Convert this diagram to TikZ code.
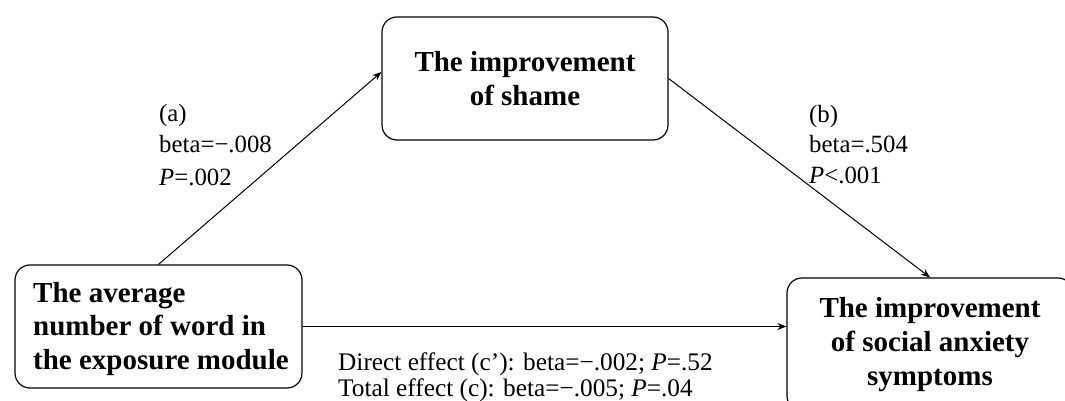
\documentclass[tikz,border=0pt]{standalone}
\usepackage{fontspec}
\setmainfont{Liberation Serif}
\usetikzlibrary{arrows.meta}
\begin{document}
\begin{tikzpicture}[x=1pt,y=-1pt,
  box/.style={draw,line width=1.2pt,rounded corners=15pt,inner sep=0pt,
    font=\fontsize{29}{34}\selectfont\bfseries},
  btxt/.style={inner sep=0pt,font=\fontsize{29}{33.5}\selectfont\bfseries},
  lbl/.style={anchor=base west,inner sep=0pt,font=\fontsize{24.8}{31}\selectfont},
  eff/.style={anchor=base west,inner sep=0pt,font=\fontsize{25.3}{31}\selectfont},
  arr/.style={line width=1pt,-{Stealth[length=9pt,width=7pt]}}]
\useasboundingbox (0,0) rectangle (1065,401);
\node[box,minimum width=287pt,minimum height=123pt] (left) at (158.5,326.5) {};
\node[btxt,anchor=west,align=left] (lt) at (33,329) {The average\\number of word in\\the exposure module};
\node[box,minimum width=286pt,minimum height=123pt,align=center] (top) at (525,78.5)
  {The improvement\\of shame};
\node[box,minimum width=286pt,minimum height=133pt,align=center] (right) at (930,344.5)
  {The improvement\\of social anxiety\\symptoms};
\coordinate (ta) at ([yshift=6.5pt]top.west);
\coordinate (rw) at (right.west |- left.east);
\draw[arr] (left.north) -- (ta);
\draw[arr] (top.east) -- (right.north);
\draw[arr] (left.east) -- (rw);
\node[lbl] (a1) at (159,122) {(a)};
\node[lbl] (a2) at (159,153) {beta=−.008};
\node[lbl] (a3) at (159,185) {\textit{P}=.002};
\node[lbl] (b1) at (809,123) {(b)};
\node[lbl] (b2) at (809,153) {beta=.504};
\node[lbl] (b3) at (809,183) {\textit{P}<.001};
\node[eff] (c1) at (338,370) {Direct effect (c’): beta=−.002; \textit{P}=.52};
\node[eff] (c2) at (338,396) {Total effect (c): beta=−.005; \textit{P}=.04};
\end{tikzpicture}
\end{document}
